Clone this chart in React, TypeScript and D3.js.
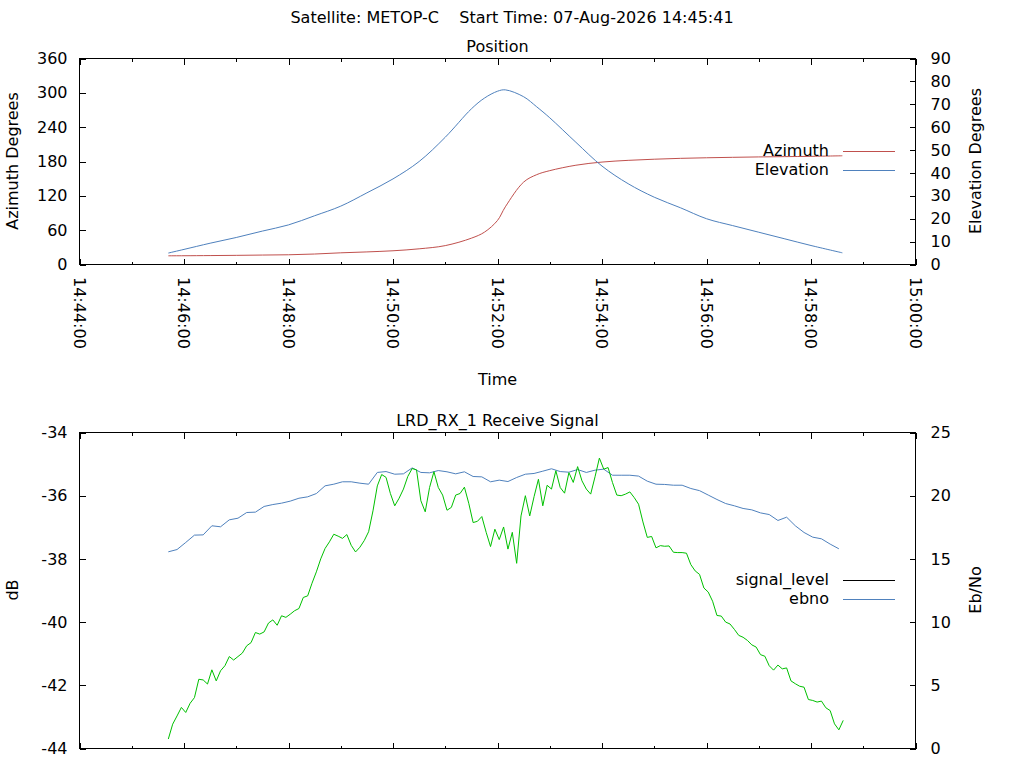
import * as d3 from "d3";
import { useEffect, useRef } from "react";

const SATELLITE = "METOP-C";
const START_TIME = "07-Aug-2026 14:45:41";

const TIME_FROM = "14:44:00";
const TIME_TO = "15:00:00";

// position track
const positionTimes = [
  "14:45:42", "14:46:00", "14:46:30", "14:47:00", "14:47:30", "14:48:00",
  "14:48:30", "14:49:00", "14:49:30", "14:50:00", "14:50:30", "14:51:00",
  "14:51:30", "14:51:45", "14:52:00", "14:52:09", "14:52:30", "14:52:45",
  "14:53:00", "14:53:30", "14:54:00", "14:54:30", "14:55:00", "14:55:30",
  "14:56:00", "14:56:30", "14:57:00", "14:57:30", "14:58:00", "14:58:36",
];
const azimuth = [
  15.2, 15.3, 15.6, 16.0, 16.5, 17.0, 18.3, 20.4, 22.0, 24.0, 27.4, 33.0,
  46.0, 56.5, 77.0, 100.8, 144, 157, 164, 173.5, 179, 182, 184, 185.5,
  186.5, 187.3, 188, 188.5, 189, 190,
];
const elevation = [
  5.0, 6.6, 9.3, 11.8, 14.6, 17.3, 21.3, 25.5, 31.3, 37.4, 45.0, 55.6,
  68.0, 72.7, 75.7, 76.3, 73.3, 68.9, 64.1, 53.4, 43.0, 35.3, 29.4, 24.8,
  20.0, 17.0, 14.1, 11.2, 8.3, 5.1,
];

// receive signal, sampled every 5 s
const signalStart = "14:45:42";
const signalStepSeconds = 5;
const signalLevel = [
  -43.7, -43.23, -42.97, -42.7, -42.86, -42.57, -42.39, -41.81, -41.83, -41.96,
  -41.51, -41.86, -41.54, -41.38, -41.09, -41.2, -41.09, -40.98, -40.75, -40.65,
  -40.33, -40.38, -40.31, -40.03, -39.93, -40.1, -39.8, -39.85, -39.75, -39.64,
  -39.57, -39.22, -39.17, -38.77, -38.41, -38.0, -37.67, -37.46, -37.22, -37.28,
  -37.35, -37.23, -37.57, -37.78, -37.63, -37.42, -37.14, -36.48, -35.69, -35.33,
  -35.42, -35.93, -36.32, -36.08, -35.79, -35.39, -35.14, -35.18, -36.16, -36.51,
  -35.74, -35.24, -35.74, -35.98, -36.46, -36.37, -35.98, -35.93, -35.73, -36.24,
  -36.85, -36.81, -36.66, -37.16, -37.61, -37.06, -37.39, -36.99, -37.69, -37.16,
  -38.14, -36.64, -36.0, -36.64, -36.03, -35.48, -36.32, -35.67, -35.79, -35.21,
  -35.74, -35.92, -35.27, -35.58, -35.08, -35.53, -35.79, -35.95, -35.4, -34.81,
  -35.16, -35.11, -35.58, -35.98, -36.0, -35.95, -35.88, -36.06, -36.27, -36.83,
  -37.32, -37.29, -37.65, -37.58, -37.6, -37.59, -37.79, -37.8, -37.8, -37.82,
  -38.18, -38.38, -38.49, -38.92, -39.05, -39.34, -39.79, -39.81, -40.0, -40.06,
  -40.23, -40.42, -40.48, -40.58, -40.72, -40.79, -41.03, -41.08, -41.38, -41.52,
  -41.36, -41.48, -41.45, -41.86, -41.95, -42.03, -42.06, -42.45, -42.48, -42.53,
  -42.5, -42.71, -42.8, -43.22, -43.41, -43.11,
];

// Eb/No, sampled every 10 s
const ebnoStart = "14:45:42";
const ebnoStepSeconds = 10;
const ebno = [
  15.56, 15.74, 16.3, 16.88, 16.9, 17.62, 17.54, 18.09, 18.22, 18.67,
  18.7, 19.15, 19.3, 19.41, 19.57, 19.8, 19.91, 20.17, 20.78, 20.91,
  21.1, 21.1, 20.99, 20.91, 21.84, 21.91, 21.7, 21.73, 22.2, 21.84,
  21.81, 21.99, 21.89, 21.73, 21.89, 21.52, 21.49, 21.1, 21.23, 21.12,
  21.44, 21.7, 21.76, 21.94, 22.13, 21.91, 21.86, 22.07, 21.84, 22.02,
  22.1, 21.62, 21.62, 21.62, 21.55, 21.15, 20.91, 20.89, 20.83, 20.83,
  20.57, 20.4, 20.05, 19.7, 19.38, 19.2, 18.99, 18.88, 18.64, 18.51,
  18.04, 18.3, 17.62, 17.09, 16.72, 16.59, 16.17, 15.8,
];

const azimuthTicks = [0, 60, 120, 180, 240, 300, 360];
const elevationTicks = [0, 10, 20, 30, 40, 50, 60, 70, 80, 90];
const dbTicks = [-44, -42, -40, -38, -36, -34];
const ebnoTicks = [0, 5, 10, 15, 20, 25];

const FONT = "DejaVu Sans";
const parse = d3.timeParse("%H:%M:%S");

type Box = { left: number; right: number; top: number; bottom: number };

function App() {
  const ref = useRef<SVGSVGElement>(null);

  useEffect(() => {
    const svg = d3.select(ref.current);
    svg.selectAll("*").remove();
    svg.attr("font-family", FONT).attr("font-size", 16);

    const topBox: Box = { left: 79.5, right: 915.5, top: 58.5, bottom: 264.5 };
    const botBox: Box = { left: 79.5, right: 915.5, top: 432.5, bottom: 748.5 };

    const x = d3
      .scaleTime()
      .domain([parse(TIME_FROM)!, parse(TIME_TO)!])
      .range([topBox.left, topBox.right]);

    const minuteTicks = x.ticks(d3.timeMinute.every(1)!);
    const fmt = d3.timeFormat("%H:%M:%S");
    const plain = (d: d3.NumberValue) => String(d); // gnuplot uses a hyphen minus

    // frame, ticks and y axes for one panel
    function frame(
      box: Box,
      yl: d3.ScaleLinear<number, number>,
      leftTicks: number[],
      yr: d3.ScaleLinear<number, number>,
      rightTicks: number[]
    ) {
      const g = svg.append("g").attr("shape-rendering", "crispEdges");
      g.append("rect")
        .attr("x", box.left)
        .attr("y", box.top)
        .attr("width", box.right - box.left)
        .attr("height", box.bottom - box.top)
        .attr("fill", "none")
        .attr("stroke", "#000");

      g.selectAll("line.xt")
        .data(minuteTicks)
        .enter()
        .append("line")
        .attr("x1", (d) => Math.round(x(d)) + 0.5)
        .attr("x2", (d) => Math.round(x(d)) + 0.5)
        .attr("y1", box.bottom)
        .attr("y2", (d) => box.bottom - (d.getMinutes() % 2 === 0 ? 6 : 3))
        .attr("stroke", "#000");
      g.selectAll("line.xtt")
        .data(minuteTicks)
        .enter()
        .append("line")
        .attr("x1", (d) => Math.round(x(d)) + 0.5)
        .attr("x2", (d) => Math.round(x(d)) + 0.5)
        .attr("y1", box.top)
        .attr("y2", (d) => box.top + (d.getMinutes() % 2 === 0 ? 6 : 3))
        .attr("stroke", "#000");

      const la = g
        .append("g")
        .attr("transform", `translate(${box.left},0)`)
        .call(
          d3.axisLeft(yl).tickValues(leftTicks).tickFormat(plain)
            .tickSize(-6).tickSizeOuter(0).tickPadding(12)
        );
      const ra = g
        .append("g")
        .attr("transform", `translate(${box.right},0)`)
        .call(
          d3.axisRight(yr).tickValues(rightTicks).tickFormat(plain)
            .tickSize(-6).tickSizeOuter(0).tickPadding(15)
        );
      [la, ra].forEach((a) => {
        a.select(".domain").remove();
        a.attr("font-family", FONT).attr("font-size", 16);
        a.selectAll("text").attr("fill", "#000");
      });
    }

    function legend(y0: number, items: { label: string; color: string }[]) {
      items.forEach((it, i) => {
        const y = y0 + i * 19;
        svg.append("text")
          .attr("x", 829)
          .attr("y", y)
          .attr("dy", "0.32em")
          .attr("text-anchor", "end")
          .text(it.label);
        svg.append("line")
          .attr("x1", 843)
          .attr("x2", 895)
          .attr("y1", y + 0.5)
          .attr("y2", y + 0.5)
          .attr("stroke", it.color)
          .attr("stroke-width", 1);
      });
    }

    function vlabel(text: string, cx: number, cy: number) {
      svg.append("text")
        .attr("transform", `translate(${cx},${cy}) rotate(-90)`)
        .attr("text-anchor", "middle")
        .text(text);
    }

    // titles
    svg.append("text")
      .attr("x", 512)
      .attr("y", 23)
      .attr("text-anchor", "middle")
      .style("white-space", "pre")
      .text(`Satellite: ${SATELLITE}    Start Time: ${START_TIME}`);

    // ---------- Position panel ----------
    const yAz = d3.scaleLinear().domain([0, 360]).range([topBox.bottom, topBox.top]);
    const yEl = d3.scaleLinear().domain([0, 90]).range([topBox.bottom, topBox.top]);
    frame(topBox, yAz, azimuthTicks, yEl, elevationTicks);

    svg.append("text")
      .attr("x", (topBox.left + topBox.right) / 2)
      .attr("y", 51.5)
      .attr("text-anchor", "middle")
      .text("Position");
    vlabel("Azimuth Degrees", 18, 161);
    vlabel("Elevation Degrees", 981, 161);

    svg.append("g")
      .selectAll("text")
      .data(minuteTicks.filter((d) => d.getMinutes() % 2 === 0))
      .enter()
      .append("text")
      .attr("transform", (d) => `translate(${x(d)},277) rotate(90)`)
      .attr("dy", "0.35em")
      .attr("text-anchor", "start")
      .text((d) => fmt(d));

    svg.append("text")
      .attr("x", (topBox.left + topBox.right) / 2)
      .attr("y", 385)
      .attr("text-anchor", "middle")
      .text("Time");

    const posDates = positionTimes.map((t) => parse(t)!);
    const azLine = d3
      .line<number>()
      .x((_, i) => x(posDates[i]))
      .y((d) => yAz(d))
      .curve(d3.curveCatmullRom);
    const elLine = d3
      .line<number>()
      .x((_, i) => x(posDates[i]))
      .y((d) => yEl(d))
      .curve(d3.curveCatmullRom);

    svg.append("path").attr("d", azLine(azimuth)).attr("fill", "none").attr("stroke", "#c0504d").attr("stroke-width", 1);
    svg.append("path").attr("d", elLine(elevation)).attr("fill", "none").attr("stroke", "#4f81bd").attr("stroke-width", 1);

    legend(151, [
      { label: "Azimuth", color: "#c0504d" },
      { label: "Elevation", color: "#4f81bd" },
    ]);

    // ---------- Receive signal panel ----------
    const yDb = d3.scaleLinear().domain([-44, -34]).range([botBox.bottom, botBox.top]);
    const yEb = d3.scaleLinear().domain([0, 25]).range([botBox.bottom, botBox.top]);
    frame(botBox, yDb, dbTicks, yEb, ebnoTicks);

    svg.append("text")
      .attr("x", (botBox.left + botBox.right) / 2)
      .attr("y", 426)
      .attr("text-anchor", "middle")
      .text("LRD_RX_1 Receive Signal");
    vlabel("dB", 18, 590);
    vlabel("Eb/No", 981, 590);

    const sigT0 = parse(signalStart)!;
    const sigLine = d3
      .line<number>()
      .x((_, i) => x(d3.timeSecond.offset(sigT0, i * signalStepSeconds)))
      .y((d) => yDb(d));
    const ebT0 = parse(ebnoStart)!;
    const ebLine = d3
      .line<number>()
      .x((_, i) => x(d3.timeSecond.offset(ebT0, i * ebnoStepSeconds)))
      .y((d) => yEb(d));

    svg.append("path").attr("d", ebLine(ebno)).attr("fill", "none").attr("stroke", "#4f81bd").attr("stroke-width", 1);
    svg.append("path").attr("d", sigLine(signalLevel)).attr("fill", "none").attr("stroke", "#00c000").attr("stroke-width", 1);

    legend(580, [
      { label: "signal_level", color: "#000" },
      { label: "ebno", color: "#4f81bd" },
    ]);
  }, []);

  return (
    <svg
      ref={ref}
      width={1024}
      height={768}
      style={{ position: "absolute", left: 0, top: 0, background: "#fff" }}
    />
  );
}

export default App;
